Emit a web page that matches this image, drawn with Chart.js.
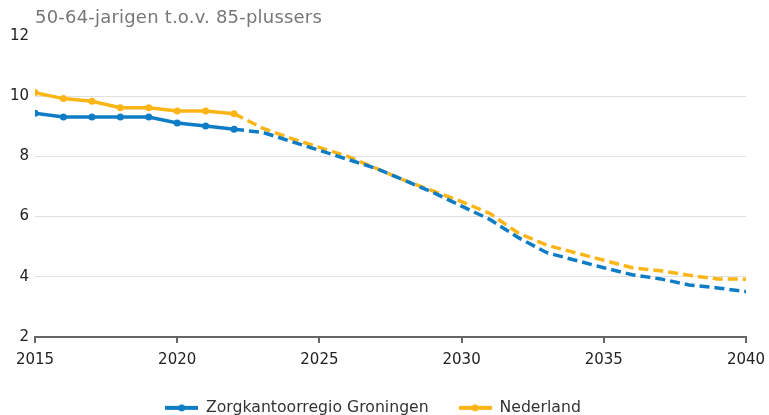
<!DOCTYPE html>
<html>
<head>
<meta charset="utf-8">
<script src="https://cdn.jsdelivr.net/npm/chart.js@4"></script>
<style>
    body { margin: 0; background: #fff; }
    #wrap { position: relative; width: 769px; height: 415px; }
    #titel { position: absolute; left: 35px; top: 6px; font: 18px 'DejaVu Sans', sans-serif; letter-spacing: 0.2px; color: #777; white-space: nowrap; }
</style>
</head>
<body>
<div id="wrap">
    <canvas id="chart" width="769" height="415"></canvas>
    <div id="titel">50-64-jarigen t.o.v. 85-plussers</div>
</div>
<script>
const jaren = [2015, 2016, 2017, 2018, 2019, 2020, 2021, 2022, 2023, 2024, 2025, 2026, 2027,
    2028, 2029, 2030, 2031, 2032, 2033, 2034, 2035, 2036, 2037, 2038, 2039, 2040];
const groningen = [9.43, 9.31, 9.31, 9.31, 9.31, 9.11, 9.01, 8.9, 8.8, 8.5, 8.2, 7.9, 7.6,
    7.2, 6.8, 6.35, 5.9, 5.3, 4.8, 4.55, 4.3, 4.07, 3.93, 3.73, 3.63, 3.51];
const nederland = [10.12, 9.92, 9.83, 9.62, 9.62, 9.51, 9.51, 9.42, 8.94, 8.6, 8.3, 8.0, 7.6,
    7.2, 6.85, 6.5, 6.1, 5.45, 5.05, 4.8, 4.55, 4.3, 4.2, 4.05, 3.93, 3.92];
const laatsteMeting = 2022;
const yTicks = [2, 4, 6, 8, 10, 12];

const kleuren = { blauw: '#0f7cc6', geel: '#fbb517' };

function toPunten(waarden) {
    return jaren.map((j, i) => ({ x: j, y: waarden[i] }));
}

function legendIcoon(kleur) {
    const c = document.createElement('canvas');
    c.width = 33; c.height = 10;
    const ctx = c.getContext('2d');
    ctx.strokeStyle = kleur;
    ctx.lineWidth = 4;
    ctx.beginPath(); ctx.moveTo(0, 5); ctx.lineTo(33, 5); ctx.stroke();
    ctx.fillStyle = kleur;
    ctx.beginPath(); ctx.arc(16.5, 5, 3.5, 0, Math.PI * 2); ctx.fill();
    return c;
}

function maakSerie(label, waarden, kleur) {
    return {
        label: label,
        data: toPunten(waarden),
        borderColor: kleur,
        backgroundColor: kleur,
        borderWidth: 3.5,
        tension: 0,
        pointRadius: ctx => (jaren[ctx.dataIndex] <= laatsteMeting ? 3.5 : 0),
        pointHoverRadius: 0,
        pointBorderWidth: 0,
        segment: {
            borderDash: ctx => (jaren[ctx.p0DataIndex] >= laatsteMeting ? [10, 5] : undefined)
        },
        icoon: legendIcoon(kleur)
    };
}

// legenda iets lager zetten
const legendPlaats = {
    id: 'legendPlaats',
    beforeLayout(chart) {
        const lg = chart.legend;
        if (lg && !lg._aangepast) {
            const fit = lg.fit.bind(lg);
            lg.fit = function () {
                fit();
                this.height = 45;
            };
            lg._aangepast = true;
        }
    }
};

Chart.defaults.font.family = "'DejaVu Sans', sans-serif";
Chart.defaults.font.size = 15;
Chart.defaults.color = '#222';

new Chart(document.getElementById('chart'), {
    type: 'line',
    data: {
        datasets: [
            maakSerie('Zorgkantoorregio Groningen', groningen, kleuren.blauw),
            maakSerie('Nederland', nederland, kleuren.geel)
        ]
    },
    plugins: [legendPlaats],
    options: {
        responsive: false,
        animation: false,
        layout: { padding: { left: 0, right: 23, top: 36, bottom: 0 } },
        plugins: {
            tooltip: { enabled: false },
            legend: {
                position: 'bottom',
                labels: {
                    usePointStyle: true,
                    pointStyleWidth: 33,
                    padding: 30,
                    color: '#333',
                    font: { size: 15.7 },
                    generateLabels: chart => chart.data.datasets.map((ds, i) => ({
                        text: ds.label,
                        pointStyle: ds.icoon,
                        fillStyle: ds.borderColor,
                        strokeStyle: ds.borderColor,
                        lineWidth: 0,
                        datasetIndex: i,
                        fontColor: '#333'
                    }))
                }
            }
        },
        scales: {
            x: {
                type: 'linear',
                min: jaren[0],
                max: jaren[jaren.length - 1],
                ticks: { stepSize: 5, callback: v => String(v), maxRotation: 0, padding: 8 },
                border: { color: '#666', width: 2 },
                grid: { drawOnChartArea: false, color: '#666', tickLength: 6, lineWidth: 2 },
                afterFit: axis => {
                    axis.height = 33;
                    axis.paddingLeft = 0;
                    axis.paddingRight = 0;
                }
            },
            y: {
                min: yTicks[0],
                max: yTicks[yTicks.length - 1],
                afterBuildTicks: axis => { axis.ticks = yTicks.map(v => ({ value: v })); },
                ticks: { padding: 6 },
                border: { display: false },
                grid: {
                    drawTicks: false,
                    color: ctx => (ctx.tick && ctx.tick.value === 12 ? 'rgba(0,0,0,0)' : '#e0e0e0')
                },
                afterFit: axis => { axis.width = 35; }
            }
        }
    }
});
</script>
</body>
</html>
